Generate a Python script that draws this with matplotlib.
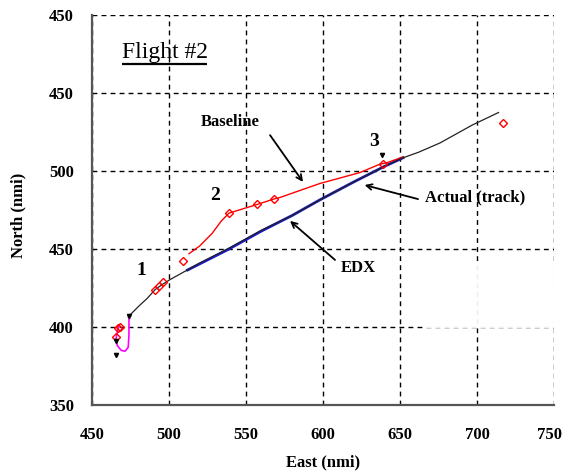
import matplotlib
matplotlib.use("Agg")
import matplotlib.pyplot as plt
from matplotlib.patches import Rectangle
from matplotlib.transforms import ScaledTranslation

plt.rcParams['font.family'] = ['Liberation Serif', 'DejaVu Serif']

# ---- data ----
track_x = [473.5, 480, 486, 491, 496, 500, 510, 520, 540, 560, 580, 598, 620, 640, 652, 662, 676, 697, 714]
track_y = [406.5, 413, 418.5, 424, 427.5, 430, 435.5, 441, 451, 462, 471.5, 481.5, 493, 503, 508.5, 512, 518, 529.5, 537.5]

edx_x = [512, 538, 560, 580, 598, 620, 640, 652]
edx_y = [436.5, 449.5, 461.5, 471.5, 481.5, 493, 503, 508.5]

base_x = [513, 520, 528, 534, 539, 557, 568, 572, 598, 624, 636, 642, 652]
base_y = [447, 452, 460, 468, 473, 478.5, 482, 483, 492, 499, 504, 505.5, 509]

mag_x = [474, 474, 473.5, 471.5, 469, 466.5, 465.5, 466.5, 467.5]
mag_y = [406, 395, 387, 384.5, 385, 388, 392, 397, 400.5]

diam_x = [491, 493.5, 496, 509, 539, 557, 568, 639, 717, 467, 465.5, 468]
diam_y = [424, 426.5, 429, 442, 473, 478.8, 482, 504.5, 531, 399.5, 393.5, 400]

tick_mark_x = [465.5, 474, 638, 465.5]
tick_mark_y = [382, 407, 510, 391]

xticks = [450, 500, 550, 600, 650, 700, 750]
yticks = [350, 400, 450, 500, 550, 600]
ytick_labels = ['350', '400', '450', '500', '450', '450']

# ---- figure ----
fig = plt.figure(figsize=(5.64, 4.76), dpi=100)
ax = fig.add_axes([92/564, 1-405/476, 462/564, 390/476])
ax.set_xlim(450, 750)
ax.set_ylim(350, 600)

ax.set_xticks(xticks)
ax.set_yticks(yticks)
ax.set_xticklabels([str(v) for v in xticks], fontsize=12, fontweight='bold')
ax.set_yticklabels(ytick_labels, fontsize=12, fontweight='bold')
ax.tick_params(axis='both', length=0)
ax.tick_params(axis='x', pad=16)
ax.tick_params(axis='y', pad=13)
last = ax.get_xticklabels()[-1]
last.set_transform(last.get_transform() + ScaledTranslation(-5/100, 0, fig.dpi_scale_trans))

ax.grid(True, color='black', linestyle=(0, (3.5, 3)), linewidth=1.0, zorder=0)
ax.set_axisbelow(True)
for s in ['top', 'right']:
    ax.spines[s].set_visible(False)
for s in ['left', 'bottom']:
    ax.spines[s].set_color('#555555')
    ax.spines[s].set_linewidth(1.6)
    ax.spines[s].set_zorder(5)

# faded box in lower right
ax.add_patch(Rectangle((665, 399.3), 85, 42.5, facecolor='white', edgecolor='none',
                       alpha=0.93, zorder=1))

ax.plot(edx_x, edx_y, color='#1a1acc', linewidth=2.0, zorder=3)
ax.plot(track_x, track_y, color='#222222', linewidth=0.9, zorder=4)
ax.plot(base_x, base_y, color='red', linewidth=1.0, zorder=3)
ax.plot(mag_x, mag_y, color='magenta', linewidth=1.2, zorder=3)
ax.plot(diam_x, diam_y, linestyle='none', marker='D', markersize=4.3,
        markerfacecolor='none', markeredgecolor='red', markeredgewidth=1.0, zorder=5)
ax.plot(tick_mark_x, tick_mark_y, linestyle='none', marker='v', markersize=3,
        color='black', zorder=6)

# labels / annotations
ax.text(497.4, 576, 'Flight #2', fontsize=17, ha='center', va='center')
ax.plot([469.8, 524.8], [568.8, 568.8], color='black', linewidth=1.6, zorder=6,
        solid_capstyle='butt')

arrow = dict(arrowstyle='->', color='black', linewidth=1.3, shrinkA=0, shrinkB=0)
ax.text(540, 531.5, 'Baseline', fontsize=12, fontweight='bold', ha='center', va='center')
ax.annotate('', xy=(587, 493), xytext=(565.6, 523), arrowprops=arrow)
ax.text(698.7, 483.3, 'Actual (track)', fontsize=12, fontweight='bold', ha='center', va='center')
ax.annotate('', xy=(627, 491), xytext=(661.7, 482), arrowprops=arrow)
ax.text(622.7, 437.8, 'EDX', fontsize=12, fontweight='bold', ha='center', va='center')
ax.annotate('', xy=(578.6, 468), xytext=(607.8, 443), arrowprops=arrow)

ax.text(481.8, 436.5, '1', fontsize=14, fontweight='bold', ha='center', va='center')
ax.text(529.9, 484, '2', fontsize=14, fontweight='bold', ha='center', va='center')
ax.text(633, 518.6, '3', fontsize=14, fontweight='bold', ha='center', va='center')

fig.text(323/564, 1-462/476, 'East (nmi)', fontsize=12, fontweight='bold', ha='center', va='center')
fig.text(18/564, 1-215/476, 'North (nmi)', fontsize=12, fontweight='bold', ha='center', va='center',
         rotation=90)

fig.savefig('out.png', dpi=100)
